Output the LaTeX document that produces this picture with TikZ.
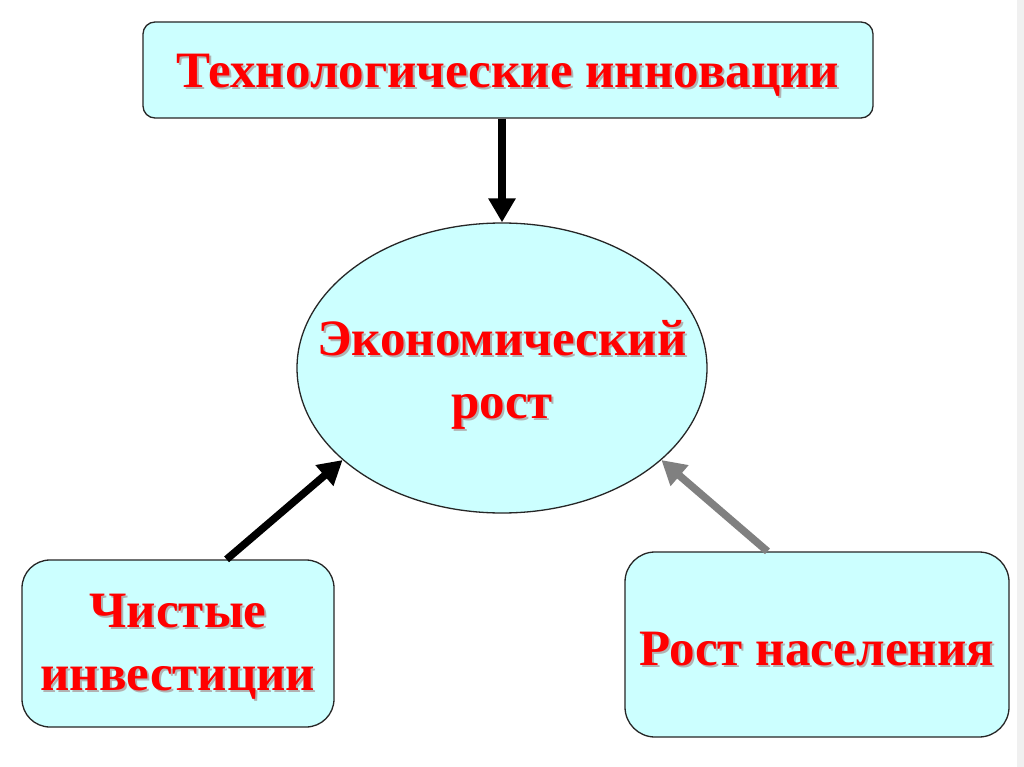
\documentclass[tikz,border=0pt]{standalone}
\usepackage{fontspec}
\setmainfont{Liberation Serif}
\usetikzlibrary{arrows.meta, shapes.geometric}

\definecolor{boxfill}{RGB}{204,255,255}
\definecolor{textred}{RGB}{255,0,0}
\definecolor{arrowgray}{RGB}{128,128,128}

% red text with a soft grey shadow
\newcommand{\shtext}[1]{\makebox[0pt][l]{\kern2pt\raisebox{-2pt}{\color{black!30}#1}}#1}

\begin{document}
\begin{tikzpicture}[x=1pt, y=-1pt,
    box/.style={draw=black!85, line width=1.3pt, fill=boxfill, inner sep=0pt},
    boxtext/.style={text=textred, font=\bfseries\fontsize{51}{63}\selectfont,
                    align=center, inner sep=0pt, yshift=-6pt},
    link/.style={-{Triangle[length=24pt, width=26pt]}, line width=7.5pt}]
  \useasboundingbox[fill=white] (0,0) rectangle (1024,767);

  \node[box, rounded corners=12pt, minimum width=730pt, minimum height=96pt,
        label={[boxtext]center:\shtext{Технологические инновации}}] (tech) at (508,70) {};
  \node[box, ellipse, minimum width=410pt, minimum height=290pt,
        label={[boxtext, yshift=-2pt]center:\shtext{Экономический}\\\shtext{рост}}] (growth) at (502,368) {};
  \node[box, rounded corners=28pt, minimum width=312pt, minimum height=167pt,
        label={[boxtext, yshift=2pt]center:\shtext{Чистые}\\\shtext{инвестиции}}] (invest) at (178,643.5) {};
  \node[box, rounded corners=30pt, minimum width=384pt, minimum height=185pt,
        label={[boxtext]center:\shtext{Рост населения}}] (people) at (817,644.5) {};

  \draw[link] (growth.north |- tech.south) -- (growth.north);
  \draw[link] (invest.60) -- (growth.210);
  \draw[link, arrowgray] (people.118) -- (growth.330);

  % faint edge strip on the right
  \fill[black!6] (1017,0) rectangle (1024,767);
\end{tikzpicture}
\end{document}
